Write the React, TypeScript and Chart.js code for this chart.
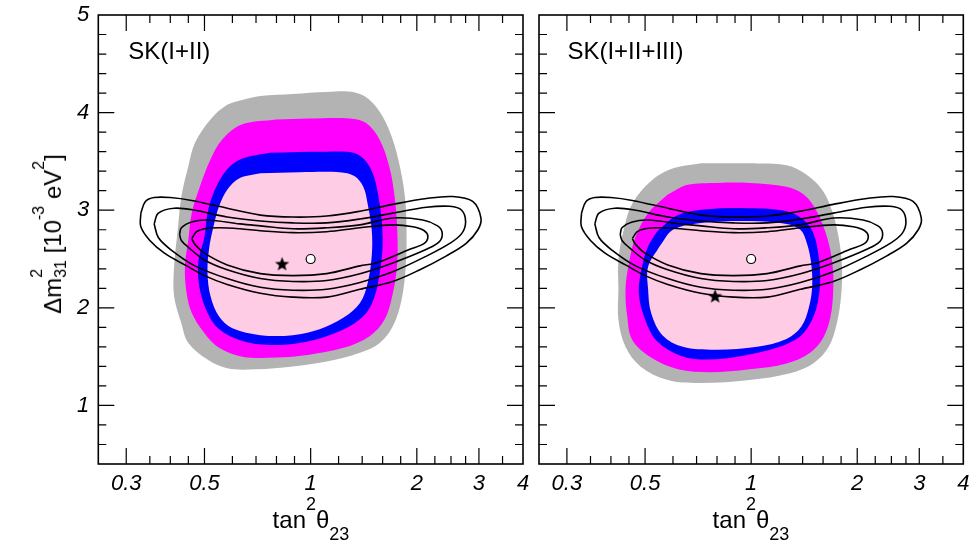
import React, { useEffect, useRef } from 'react';
import { Chart, registerables } from 'chart.js';

Chart.register(...registerables);

const FONT = "'Liberation Sans', Arial, Helvetica, sans-serif";
Chart.defaults.font.family = FONT;
Chart.defaults.color = '#000';

type Pt = [number, number];

// ---- axes ----
const X_MIN = 0.25;
const X_MAX = 4;
const Y_MIN = 0.4;
const Y_MAX = 5;
const X_TICKS = [0.3, 0.5, 1, 2, 3, 4];
const X_TICK_LABELS = ['0.3', '0.5', '1', '2', '3', '4'];
const Y_TICKS = [1, 2, 3, 4, 5];
const Y_TICK_LABELS = ['1', '2', '3', '4', '5'];
const X_MAJOR = [0.3, 0.5, 1, 2, 3];
const X_MINOR = [0.35, 0.4, 0.45, 0.6, 0.7, 0.8, 0.9, 1.2, 1.4, 1.6, 1.8, 2.25, 2.5, 2.75, 3.5];
const Y_MAJOR = [1, 2, 3, 4];
const Y_MINOR = [0.6, 0.8, 1.2, 1.4, 1.6, 1.8, 2.2, 2.4, 2.6, 2.8, 3.2, 3.4, 3.6, 3.8, 4.2, 4.4, 4.6, 4.8];

// ---- SK(I+II) filled regions ----
const LEFT_GRAY: Pt[] = [[0.64,4.13],[0.72,4.17],[0.89,4.19],[1.11,4.21],[1.32,4.21],[1.47,4.13],[1.60,3.96],[1.71,3.72],[1.79,3.45],[1.85,3.14],[1.87,2.80],[1.86,2.42],[1.81,2.08],[1.71,1.81],[1.57,1.64],[1.38,1.54],[1.11,1.45],[0.89,1.40],[0.70,1.37],[0.58,1.38],[0.51,1.47],[0.45,1.64],[0.43,1.84],[0.41,2.12],[0.41,2.42],[0.42,2.80],[0.43,3.14],[0.45,3.45],[0.47,3.69],[0.52,3.93],[0.58,4.08]];
const LEFT_MAGENTA: Pt[] = [[0.80,3.93],[0.99,3.94],[1.29,3.94],[1.44,3.89],[1.57,3.72],[1.67,3.45],[1.73,3.14],[1.76,2.80],[1.76,2.46],[1.71,2.15],[1.62,1.88],[1.47,1.71],[1.24,1.59],[0.99,1.52],[0.80,1.49],[0.64,1.50],[0.55,1.59],[0.50,1.74],[0.46,1.95],[0.445,2.15],[0.44,2.42],[0.45,2.70],[0.46,2.97],[0.485,3.24],[0.52,3.52],[0.56,3.72],[0.64,3.88]];
const LEFT_BLUE: Pt[] = [[0.765,3.59],[1.11,3.60],[1.32,3.59],[1.42,3.52],[1.50,3.38],[1.55,3.18],[1.59,2.90],[1.60,2.63],[1.57,2.36],[1.52,2.12],[1.44,1.95],[1.29,1.81],[1.11,1.71],[0.93,1.64],[0.765,1.62],[0.64,1.66],[0.55,1.78],[0.51,1.95],[0.485,2.19],[0.48,2.46],[0.50,2.73],[0.51,2.97],[0.535,3.21],[0.58,3.42],[0.64,3.53]];
const LEFT_PINK: Pt[] = [[0.72,3.38],[0.93,3.39],[1.21,3.39],[1.33,3.35],[1.41,3.24],[1.45,3.07],[1.49,2.80],[1.49,2.53],[1.45,2.25],[1.38,2.05],[1.24,1.90],[1.06,1.78],[0.89,1.72],[0.72,1.72],[0.60,1.79],[0.55,1.91],[0.52,2.12],[0.51,2.36],[0.515,2.60],[0.53,2.83],[0.55,3.04],[0.58,3.21],[0.63,3.33]];
const LEFT_STAR = { x: 0.83, y: 2.45 };
const LEFT_CIRCLE = { x: 1.0, y: 2.5 };

// ---- SK(I+II+III) filled regions ----
const RIGHT_GRAY: Pt[] = [[0.72,3.48],[0.99,3.48],[1.26,3.46],[1.44,3.36],[1.59,3.21],[1.69,3.01],[1.77,2.73],[1.81,2.42],[1.80,2.12],[1.75,1.84],[1.66,1.60],[1.50,1.43],[1.29,1.33],[0.99,1.26],[0.72,1.23],[0.58,1.26],[0.485,1.40],[0.44,1.60],[0.42,1.88],[0.42,2.19],[0.42,2.49],[0.435,2.80],[0.46,3.07],[0.52,3.30],[0.59,3.42]];
const RIGHT_MAGENTA: Pt[] = [[0.58,3.16],[0.66,3.26],[0.80,3.28],[0.99,3.28],[1.26,3.24],[1.41,3.16],[1.535,2.99],[1.64,2.73],[1.70,2.46],[1.71,2.19],[1.68,1.91],[1.60,1.69],[1.47,1.54],[1.26,1.43],[0.99,1.37],[0.765,1.34],[0.62,1.37],[0.52,1.49],[0.46,1.67],[0.445,1.91],[0.44,2.19],[0.45,2.46],[0.47,2.73],[0.51,2.97]];
const RIGHT_BLUE: Pt[] = [[0.54,2.78],[0.62,2.95],[0.75,3.01],[0.99,3.02],[1.26,2.99],[1.41,2.90],[1.50,2.77],[1.55,2.56],[1.57,2.32],[1.55,2.08],[1.49,1.88],[1.38,1.71],[1.18,1.59],[0.95,1.51],[0.75,1.47],[0.63,1.51],[0.54,1.66],[0.50,1.88],[0.48,2.15],[0.49,2.42],[0.51,2.63]];
const RIGHT_PINK: Pt[] = [[0.55,2.63],[0.60,2.80],[0.72,2.87],[0.99,2.89],[1.26,2.86],[1.38,2.80],[1.44,2.66],[1.48,2.46],[1.49,2.22],[1.46,2.01],[1.39,1.81],[1.26,1.68],[1.04,1.60],[0.80,1.57],[0.64,1.60],[0.56,1.72],[0.52,1.95],[0.51,2.19],[0.51,2.42]];
const RIGHT_STAR = { x: 0.79, y: 2.12 };
const RIGHT_CIRCLE = { x: 1.0, y: 2.5 };

// ---- black line contours (same in both panels) ----
const CONTOUR_1: Pt[] = [[0.33,2.97],[0.34,3.09],[0.36,3.13],[0.40,3.13],[0.46,3.10],[0.58,3.02],[0.72,2.95],[0.89,2.93],[1.11,2.94],[1.38,2.99],[1.71,3.06],[2.13,3.12],[2.53,3.14],[2.88,3.09],[3.04,2.92],[2.98,2.80],[2.76,2.66],[2.42,2.53],[2.04,2.39],[1.71,2.27],[1.38,2.19],[1.11,2.11],[0.89,2.11],[0.72,2.15],[0.58,2.24],[0.50,2.33],[0.44,2.44],[0.385,2.56],[0.35,2.69],[0.33,2.83]];
const CONTOUR_2: Pt[] = [[0.36,2.86],[0.37,2.97],[0.41,3.02],[0.47,3.00],[0.58,2.93],[0.72,2.89],[0.89,2.87],[1.11,2.87],[1.38,2.91],[1.71,2.97],[2.13,3.03],[2.48,3.04],[2.68,3.00],[2.75,2.88],[2.68,2.76],[2.48,2.66],[2.13,2.53],[1.71,2.37],[1.38,2.26],[1.11,2.19],[0.89,2.18],[0.72,2.21],[0.58,2.30],[0.47,2.43],[0.40,2.60],[0.37,2.72]];
const CONTOUR_3: Pt[] = [[0.425,2.75],[0.43,2.82],[0.46,2.88],[0.51,2.90],[0.63,2.86],[0.72,2.84],[0.89,2.81],[1.11,2.82],[1.38,2.85],[1.71,2.92],[2.08,2.90],[2.29,2.84],[2.36,2.77],[2.32,2.68],[2.13,2.60],[1.71,2.46],[1.38,2.35],[1.11,2.28],[0.89,2.27],[0.72,2.30],[0.58,2.39],[0.50,2.49],[0.45,2.62],[0.43,2.69]];
const CONTOUR_4: Pt[] = [[0.46,2.71],[0.475,2.78],[0.50,2.81],[0.55,2.82],[0.63,2.81],[0.72,2.79],[0.89,2.77],[1.11,2.78],[1.38,2.82],[1.71,2.85],[1.95,2.83],[2.10,2.79],[2.15,2.73],[2.10,2.66],[1.91,2.60],[1.535,2.46],[1.38,2.43],[1.11,2.35],[0.89,2.33],[0.72,2.35],[0.58,2.44],[0.50,2.56],[0.47,2.65]];

const COLORS = { gray: '#b3b3b3', magenta: '#ff00ff', blue: '#0000ff', pink: '#ffcce6' };

function closed(pts: Pt[]) {
  return [...pts, pts[0]].map(([x, y]) => ({ x, y }));
}

function makeStar(r: number) {
  const size = Math.ceil(r * 2) + 2;
  const c = document.createElement('canvas');
  c.width = size;
  c.height = size;
  const g = c.getContext('2d')!;
  g.translate(size / 2, size / 2 + 0.5);
  g.beginPath();
  for (let i = 0; i < 10; i++) {
    const rad = i % 2 === 0 ? r : r * 0.42;
    const a = -Math.PI / 2 + (i * Math.PI) / 5;
    g.lineTo(rad * Math.cos(a), rad * Math.sin(a));
  }
  g.closePath();
  g.fillStyle = '#000';
  g.fill();
  return c;
}

const decorPlugin = {
  id: 'decor',
  afterDatasetsDraw(chart: any, _args: any, opts: any) {
    const { ctx, chartArea: a } = chart;
    const xs = chart.scales.x;
    const ys = chart.scales.y;
    ctx.save();
    ctx.strokeStyle = '#000';
    ctx.lineWidth = 1.2;
    ctx.beginPath();
    const vt = (v: number, len: number) => {
      const p = xs.getPixelForValue(v);
      ctx.moveTo(p, a.bottom);
      ctx.lineTo(p, a.bottom - len);
      ctx.moveTo(p, a.top);
      ctx.lineTo(p, a.top + len);
    };
    const ht = (v: number, len: number) => {
      const p = ys.getPixelForValue(v);
      ctx.moveTo(a.left, p);
      ctx.lineTo(a.left + len, p);
      ctx.moveTo(a.right, p);
      ctx.lineTo(a.right - len, p);
    };
    X_MAJOR.forEach((v) => vt(v, 16));
    X_MINOR.forEach((v) => vt(v, 8));
    Y_MAJOR.forEach((v) => ht(v, 16));
    Y_MINOR.forEach((v) => ht(v, 8));
    ctx.stroke();
    ctx.lineWidth = 1.6;
    ctx.strokeRect(a.left, a.top, a.right - a.left, a.bottom - a.top);
    ctx.font = `24px ${FONT}`;
    ctx.fillStyle = '#000';
    ctx.textBaseline = 'alphabetic';
    ctx.textAlign = 'left';
    ctx.fillText(opts.label, a.left + opts.dx, a.top + opts.dy);
    ctx.restore();
  },
};

type PanelProps = {
  left: number;
  width: number;
  padding: { left: number; right: number; top: number; bottom: number };
  showY: boolean;
  gray: Pt[];
  magenta: Pt[];
  blue: Pt[];
  pink: Pt[];
  star: { x: number; y: number };
  circle: { x: number; y: number };
  label: string;
  labelDx: number;
};

function Panel(p: PanelProps) {
  const ref = useRef<HTMLCanvasElement>(null);
  useEffect(() => {
    const starImg = makeStar(7.5);
    const fillDs = (pts: Pt[], color: string, order: number) => ({
      data: closed(pts),
      showLine: true,
      fill: 'shape',
      backgroundColor: color,
      borderColor: color,
      borderWidth: 0,
      pointRadius: 0,
      tension: 0.35,
      order,
    });
    const lineDs = (pts: Pt[], order: number) => ({
      data: closed(pts),
      showLine: true,
      fill: false,
      borderColor: '#000',
      borderWidth: 1.6,
      pointRadius: 0,
      tension: 0.35,
      order,
    });
    const chart = new Chart(ref.current!, {
      type: 'scatter',
      data: {
        datasets: [
          fillDs(p.gray, COLORS.gray, 10),
          fillDs(p.magenta, COLORS.magenta, 9),
          fillDs(p.blue, COLORS.blue, 8),
          fillDs(p.pink, COLORS.pink, 7),
          lineDs(CONTOUR_1, 5),
          lineDs(CONTOUR_2, 5),
          lineDs(CONTOUR_3, 5),
          lineDs(CONTOUR_4, 5),
          {
            data: [p.circle],
            pointStyle: 'circle',
            pointRadius: 4.5,
            backgroundColor: '#ffffff',
            borderColor: '#000000',
            borderWidth: 1.2,
            order: 2,
          },
          {
            data: [p.star],
            pointStyle: starImg,
            pointRadius: 7,
            order: 1,
          },
        ] as any,
      },
      options: {
        animation: false,
        responsive: false,
        devicePixelRatio: 1,
        events: [],
        layout: { padding: p.padding },
        plugins: {
          legend: { display: false },
          tooltip: { enabled: false },
          decor: { label: p.label, dx: p.labelDx, dy: 44.3 },
        } as any,
        scales: {
          x: {
            type: 'logarithmic',
            min: X_MIN,
            max: X_MAX,
            afterBuildTicks: (s: any) => {
              s.ticks = X_TICKS.map((v) => ({ value: v }));
            },
            afterFit: (s: any) => {
              s.height = 94;
            },
            grid: { display: false, drawTicks: true, tickLength: 7 },
            border: { display: false },
            ticks: {
              padding: 0,
              autoSkip: false,
              maxRotation: 0,
              minRotation: 0,
              color: '#000',
              font: { size: 22, style: 'italic', family: FONT },
              callback: (v: any) => {
                const i = X_TICKS.indexOf(Number(v));
                return i >= 0 ? X_TICK_LABELS[i] : '';
              },
            },
          },
          y: {
            type: 'linear',
            min: Y_MIN,
            max: Y_MAX,
            display: p.showY,
            afterBuildTicks: (s: any) => {
              s.ticks = Y_TICKS.map((v) => ({ value: v }));
            },
            afterFit: (s: any) => {
              s.width = p.showY ? 98.3 : 0;
            },
            grid: { display: false, drawTicks: true, tickLength: 9 },
            border: { display: false },
            ticks: {
              padding: 0,
              autoSkip: false,
              color: '#000',
              font: { size: 22, style: 'italic', family: FONT },
              callback: (v: any) => {
                const i = Y_TICKS.indexOf(Number(v));
                return i >= 0 ? Y_TICK_LABELS[i] : '';
              },
            },
          },
        } as any,
      },
      plugins: [decorPlugin as any],
    });
    return () => chart.destroy();
  }, []);
  return (
    <canvas
      ref={ref}
      width={p.width}
      height={558}
      style={{ position: 'absolute', left: p.left, top: 0, width: p.width, height: 558 }}
    />
  );
}

const supStyle = (size: number, shift: number): React.CSSProperties => ({
  fontSize: size,
  position: 'relative',
  top: shift,
});

function XTitle({ cx }: { cx: number }) {
  return (
    <div
      style={{
        position: 'absolute',
        left: cx,
        top: 508,
        transform: 'translateX(-50%)',
        fontFamily: FONT,
        fontSize: 24,
        lineHeight: 1,
        whiteSpace: 'nowrap',
        color: '#000',
      }}
    >
      tan<span style={supStyle(18, -18)}>2</span>θ<span style={supStyle(18, 12)}>23</span>
    </div>
  );
}

function YTitle() {
  return (
    <div
      style={{
        position: 'absolute',
        left: 53.4,
        top: 234,
        transform: 'translate(-50%, -50%) rotate(-90deg)',
        fontFamily: FONT,
        fontSize: 24,
        lineHeight: 1,
        whiteSpace: 'nowrap',
        color: '#000',
      }}
    >
      Δm<span style={supStyle(16, -19)}>2</span>
      <span style={{ ...supStyle(16, 5), marginLeft: -9 }}>31</span> [10
      <span style={supStyle(16, -17)}>-3</span> eV<span style={supStyle(16, -17)}>2</span>]
    </div>
  );
}

export default function App() {
  return (
    <div
      style={{
        position: 'fixed',
        left: 0,
        top: 0,
        width: 979,
        height: 558,
        background: '#fff',
        overflow: 'hidden',
      }}
    >
      <Panel
        left={0}
        width={531}
        padding={{ left: 0, right: 7.7, top: 15, bottom: 0 }}
        showY={true}
        gray={LEFT_GRAY}
        magenta={LEFT_MAGENTA}
        blue={LEFT_BLUE}
        pink={LEFT_PINK}
        star={LEFT_STAR}
        circle={LEFT_CIRCLE}
        label="SK(I+II)"
        labelDx={30}
      />
      <Panel
        left={531}
        width={448}
        padding={{ left: 7.3, right: 15.7, top: 15, bottom: 0 }}
        showY={false}
        gray={RIGHT_GRAY}
        magenta={RIGHT_MAGENTA}
        blue={RIGHT_BLUE}
        pink={RIGHT_PINK}
        star={RIGHT_STAR}
        circle={RIGHT_CIRCLE}
        label="SK(I+II+III)"
        labelDx={28.4}
      />
      <XTitle cx={311} />
      <XTitle cx={751} />
      <YTitle />
    </div>
  );
}
